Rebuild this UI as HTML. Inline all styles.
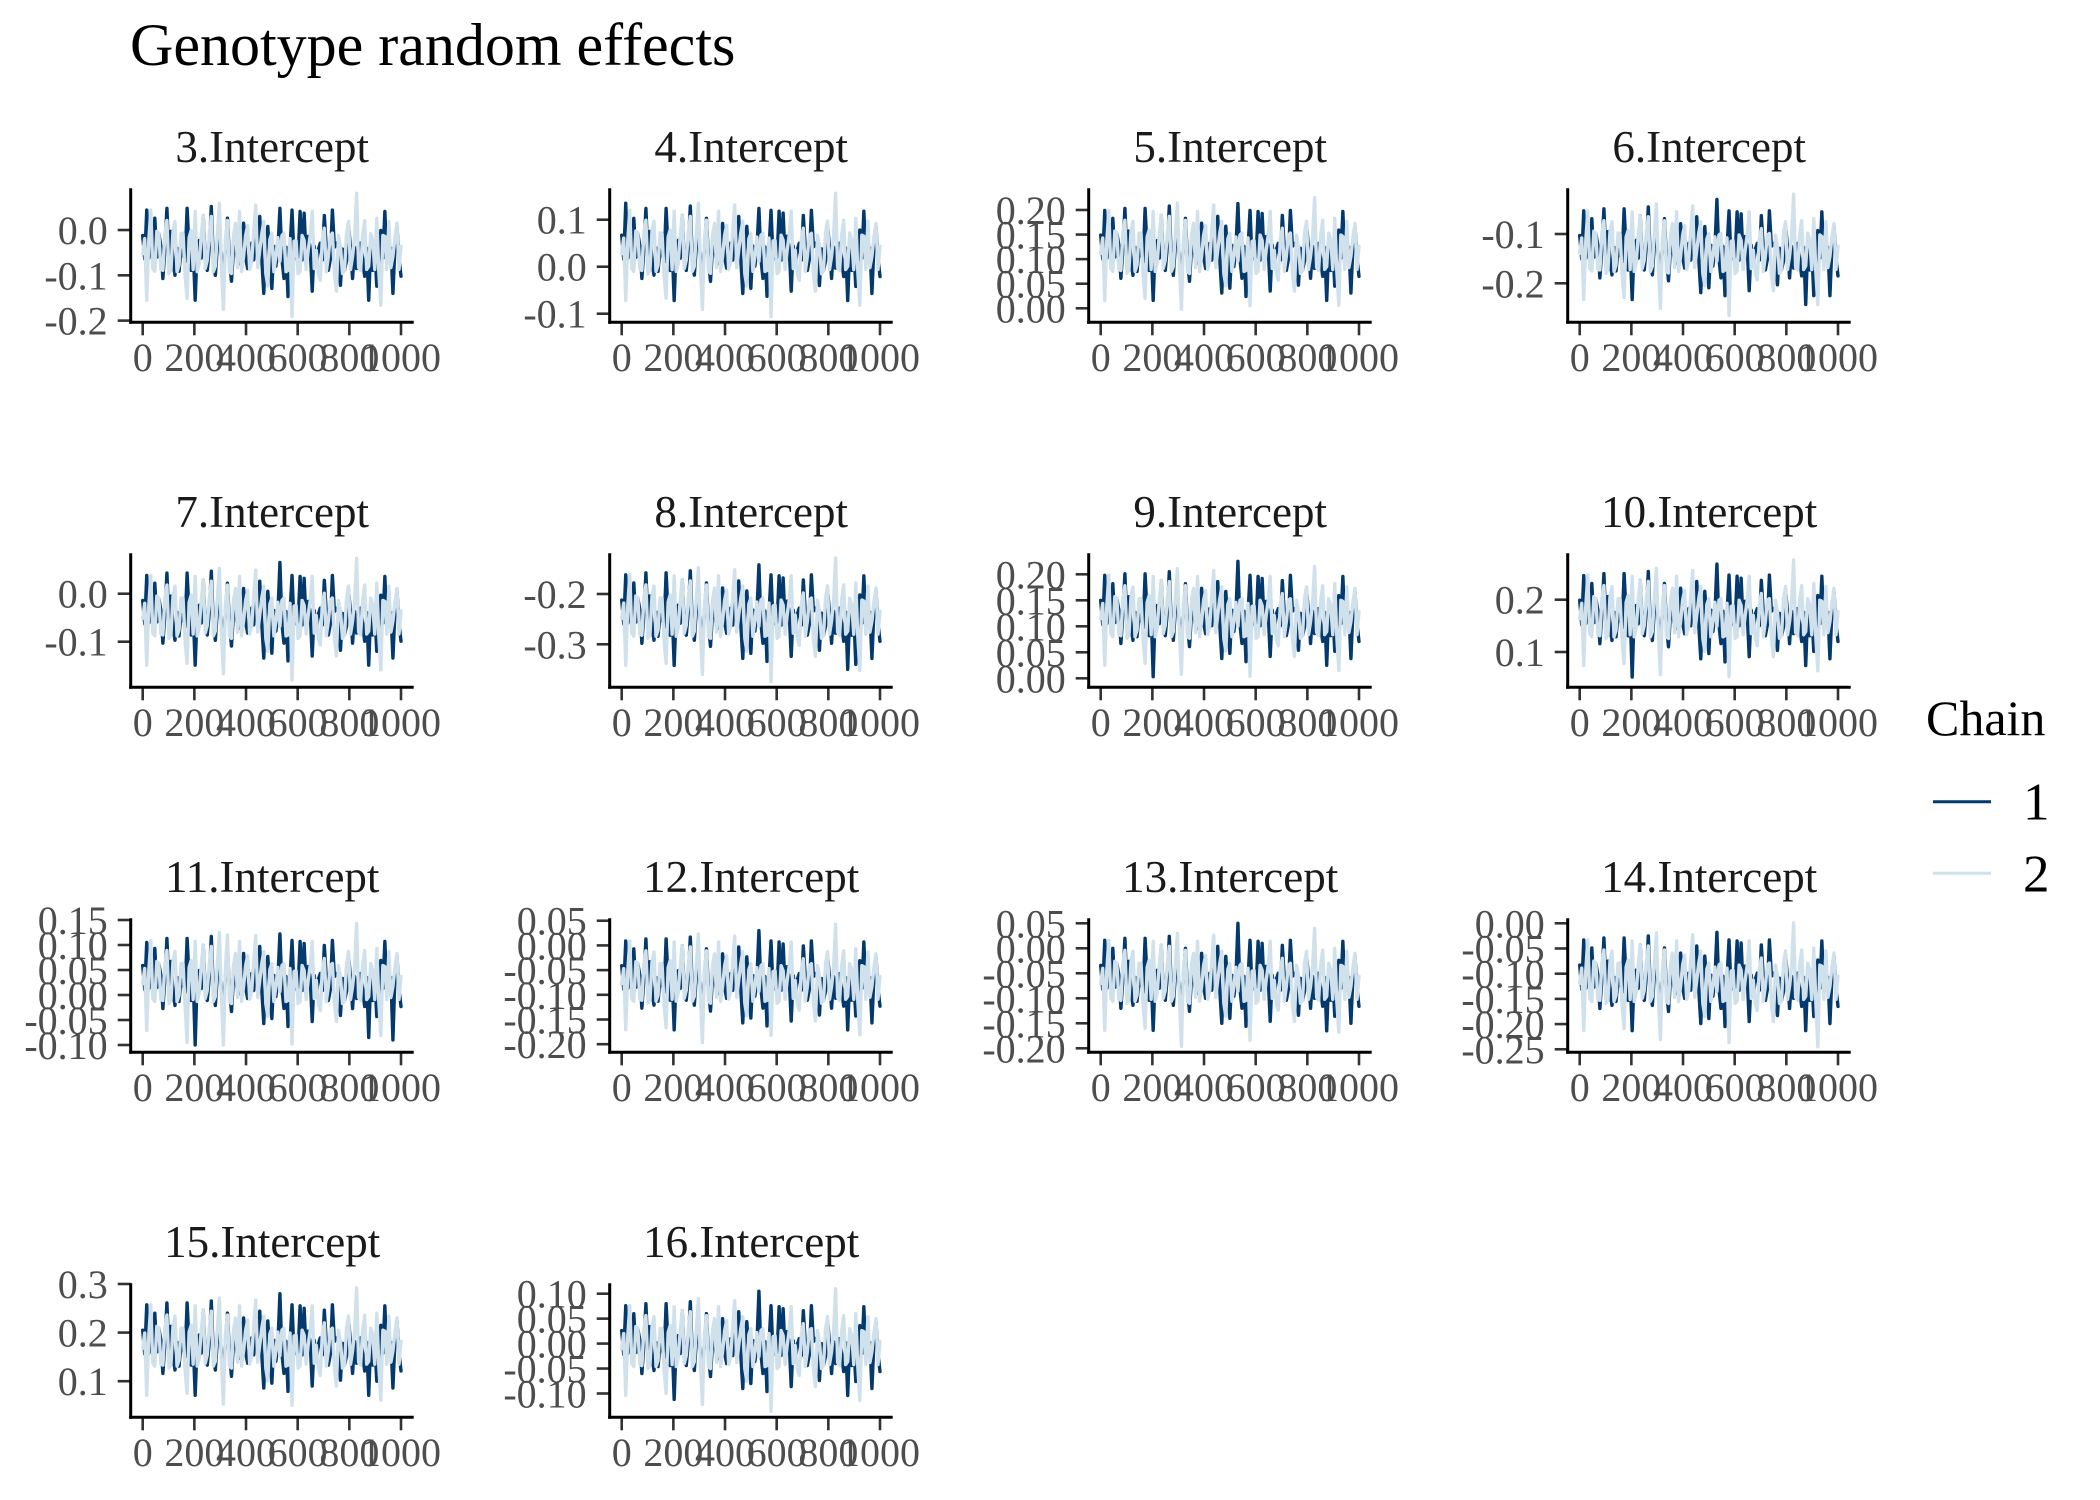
<!DOCTYPE html>
<html lang="en">
<head>
<meta charset="utf-8">
<title>Genotype random effects</title>
<style>
html,body{margin:0;padding:0;background:#fff;}
svg{display:block;font-family:"Liberation Serif",serif;}
</style>
</head>
<body>
<svg id="chart" xmlns="http://www.w3.org/2000/svg" width="2100" height="1500" viewBox="0 0 2100 1500">
  <rect x="0" y="0" width="2100" height="1500" fill="#fff"/>
  <text x="130" y="65" font-size="60" fill="#000">Genotype random effects</text>
  <g>
    <text x="1926" y="735" font-size="50" fill="#000">Chain</text>
    <line x1="1933" y1="801.7" x2="1991" y2="801.7" stroke="#03396c" stroke-width="3"/>
    <text x="2023" y="819.5" font-size="53" fill="#000">1</text>
    <line x1="1933" y1="873.3" x2="1991" y2="873.3" stroke="#d1e1ec" stroke-width="3"/>
    <text x="2023" y="891.5" font-size="53" fill="#000">2</text>
  </g>
  <g id="panels"></g>
</svg>
<script>
// Trace values are in thousandths of the effect size.
// The "Between" arrays hold the samples that fall between consecutive samples of the main array.
const valueUnit = 0.001;
const maxIteration = 1000;
const xTickValues = [0, 200, 400, 600, 800, 1000];

const p3Title = '3.Intercept';
const p3Ticks = ['0.0', '-0.1', '-0.2'];
const p3Domain = [-0.2037, 0.0921];
const p3Chain1 = [-12,44,-23,26,-7,-107,48,-3,-100,-91,-52,48,-89,-155,-23,32,-89,52,-100,-3,-107,26,-113,-36,-74,15,-85,-29,-7,30,-140,8,-129,-80,48,-107,-147,44,-25,41,37,-14,-135,-80,-29,32,-89,44,-29,-122,-89,10,-107,-85,-29,-102,-155,-89,-124,-1,41,-67,-140,8,-102];
const p3Chain1Between = [-64,-62,-66,-60,-36,-42,-64,-68,-40,-44,-70,-42,-38,-40,-62,-68,-40,-66,-36,-62,-38,-64,-42,-68,-38,-60,-40,-66,-62,-64,-38,-62,-36,-42,-64,-38,-42,-64,-60,-66,-62,-40,-36,-44,-66,-42,-64,-38,-40,-42,-68,-40,-38,-44,-66,-40,-36,-42,-64,-62,-66,-40,-36,-62];
const p3Chain2 = [-52,-155,44,-91,-7,-89,21,-89,19,-78,-7,-151,-1,41,-74,32,-67,30,-80,59,-175,21,-96,15,41,-58,10,-69,55,-45,19,-124,-7,-58,-69,-7,-89,-191,-23,-91,-23,-45,41,-45,-111,4,-58,-7,-135,-36,-89,19,-58,81,-89,21,-80,-23,26,-166,-14,19,-58,15,-36];
const p3Chain2Between = [-19,-25,-85,-3,-87,-8,-96,-3,-92,-8,-101,-17,-87,-92,-12,-85,-8,-92,-8,-83,-21,-92,-12,-83,-92,-12,-87,-3,-83,-8,-96,-21,-92,-17,-12,-92,-19,-25,-96,-12,-87,-12,-85,-96,-21,-92,-12,-96,-12,-96,-8,-87,-17,-83,-12,-87,-8,-87,-92,-12,-87,-83,-17,-87];

const p4Title = '4.Intercept';
const p4Ticks = ['0.1', '0.0', '-0.1'];
const p4Domain = [-0.1183, 0.1668];
const p4Chain1 = [67,135,56,103,71,-25,124,75,-18,-10,28,124,-8,-72,56,109,-8,129,-18,75,-25,103,-31,43,7,92,-3,50,71,107,-57,86,-46,1,124,-25,-63,120,54,118,114,65,-52,1,50,109,-8,120,50,-40,-8,88,-25,-3,50,-21,-72,-8,-42,78,118,14,-57,86,-21];
const p4Chain1Between = [16,18,14,20,44,38,16,12,40,36,10,38,42,40,18,12,40,14,44,18,42,16,38,12,42,20,40,14,18,16,42,18,44,38,16,42,38,16,20,14,18,40,44,36,14,38,16,42,40,38,12,40,42,36,14,40,44,38,16,18,14,40,44,18];
const p4Chain2 = [28,-72,120,-10,71,-8,99,-8,97,3,71,-67,78,118,7,109,14,107,1,135,-91,99,-14,92,118,22,88,11,131,35,97,-42,71,22,11,71,-8,-106,56,-10,56,35,118,35,-29,82,22,71,-52,43,-8,97,22,156,-8,99,1,56,103,-82,65,97,22,92,43];
const p4Chain2Between = [61,55,-4,76,-6,72,-15,76,-10,72,-19,63,-6,-10,67,-4,72,-10,72,-2,59,-10,67,-2,-10,67,-6,76,-2,72,-15,59,-10,63,67,-10,61,55,-15,67,-6,67,-4,-15,59,-10,67,-15,67,-15,72,-6,63,-2,67,-6,72,-6,-10,67,-6,-2,63,-6];

const p5Title = '5.Intercept';
const p5Ticks = ['0.20', '0.15', '0.10', '0.05', '0.00'];
const p5Domain = [-0.0285, 0.2441];
const p5Chain1 = [149,199,138,183,153,61,203,157,67,75,112,203,77,16,138,189,77,208,67,157,61,183,55,126,92,173,81,132,153,187,31,167,41,85,213,61,24,199,136,197,193,146,35,85,132,189,77,199,132,47,77,169,61,81,132,65,16,77,45,159,197,98,31,167,65];
const p5Chain1Between = [100,102,98,104,128,122,100,96,124,120,94,122,126,124,102,96,124,98,128,102,126,100,122,96,126,104,124,98,102,100,126,102,128,122,100,126,122,100,104,98,102,124,128,120,98,122,100,126,124,122,96,124,126,120,98,124,128,122,100,102,98,124,128,102];
const p5Chain2 = [112,16,199,75,153,77,179,77,177,88,153,20,159,197,92,189,98,187,85,214,-2,179,71,173,197,106,169,96,210,118,177,45,153,106,96,153,77,5,138,75,138,118,197,118,57,163,106,153,35,126,77,177,106,225,77,179,85,138,183,6,146,177,106,173,126];
const p5Chain2Between = [143,136,81,157,79,153,71,157,75,153,67,145,79,75,149,81,153,75,153,83,141,75,149,83,75,149,79,157,83,153,71,141,75,145,149,75,143,136,71,149,79,149,81,71,141,75,149,71,149,71,153,79,145,83,149,79,153,79,75,149,79,83,145,79];

const p6Title = '6.Intercept';
const p6Ticks = ['-0.1', '-0.2'];
const p6Domain = [-0.2791, -0.0073];
const p6Chain1 = [-103,-53,-113,-69,-99,-189,-49,-95,-183,-175,-139,-49,-173,-233,-113,-63,-173,-45,-183,-95,-189,-69,-195,-125,-159,-79,-169,-119,-99,-65,-219,-85,-209,-165,-30,-189,-225,-53,-115,-55,-59,-105,-215,-165,-119,-63,-173,-53,-119,-203,-173,-83,-189,-169,-119,-185,-243,-173,-225,-93,-55,-153,-225,-85,-185];
const p6Chain1Between = [-151,-149,-153,-147,-123,-129,-151,-155,-127,-131,-157,-129,-125,-127,-149,-155,-127,-153,-123,-149,-125,-151,-129,-155,-125,-147,-127,-153,-149,-151,-125,-149,-123,-129,-151,-125,-129,-151,-147,-153,-149,-127,-123,-131,-153,-129,-151,-125,-127,-129,-155,-127,-125,-131,-153,-127,-123,-129,-151,-149,-153,-127,-123,-149];
const p6Chain2 = [-139,-233,-53,-175,-99,-173,-73,-173,-75,-163,-99,-229,-93,-55,-159,-63,-153,-65,-165,-39,-251,-73,-179,-79,-55,-145,-83,-155,-43,-133,-75,-205,-99,-145,-155,-99,-173,-265,-113,-175,-113,-133,-55,-133,-193,-89,-145,-99,-215,-125,-173,-75,-145,-19,-173,-73,-165,-113,-69,-243,-105,-75,-145,-79,-125];
const p6Chain2Between = [-108,-115,-170,-94,-172,-98,-180,-94,-176,-98,-184,-106,-172,-176,-102,-170,-98,-176,-98,-168,-110,-176,-102,-168,-176,-102,-172,-94,-168,-98,-180,-110,-176,-106,-102,-176,-108,-115,-180,-102,-172,-102,-170,-180,-110,-176,-102,-180,-102,-180,-98,-172,-106,-168,-102,-172,-98,-172,-176,-102,-172,-168,-106,-172];

const p7Title = '7.Intercept';
const p7Ticks = ['0.0', '-0.1'];
const p7Domain = [-0.195, 0.0842];
const p7Chain1 = [-14,38,-24,22,-9,-103,43,-5,-97,-88,-51,43,-86,-149,-24,28,-86,47,-97,-5,-103,22,-109,-36,-72,11,-82,-30,-9,26,-134,5,-124,-78,65,-103,-140,38,-26,36,32,-16,-130,-78,-30,28,-86,38,-30,-118,-86,7,-103,-82,-30,-99,-149,-86,-120,-3,36,-66,-134,5,-99];
const p7Chain1Between = [-63,-61,-65,-59,-35,-41,-63,-67,-39,-43,-69,-41,-37,-39,-61,-67,-39,-65,-35,-61,-37,-63,-41,-67,-37,-59,-39,-65,-61,-63,-37,-61,-35,-41,-63,-37,-41,-63,-59,-65,-61,-39,-35,-43,-65,-41,-63,-37,-39,-41,-67,-39,-37,-43,-65,-39,-35,-41,-63,-61,-65,-39,-35,-61];
const p7Chain2 = [-51,-149,38,-88,-9,-86,18,-86,16,-76,-9,-145,-3,36,-72,28,-66,26,-78,53,-167,18,-93,11,36,-57,7,-68,49,-45,16,-120,-9,-57,-68,-9,-86,-180,-24,-88,-24,-45,36,-45,-107,1,-57,-9,-130,-36,-86,16,-57,74,-86,18,-78,-24,22,-159,-16,16,-57,11,-36];
const p7Chain2Between = [-20,-26,-82,-5,-84,-9,-93,-5,-88,-9,-97,-18,-84,-88,-14,-82,-9,-88,-9,-80,-22,-88,-14,-80,-88,-14,-84,-5,-80,-9,-93,-22,-88,-18,-14,-88,-20,-26,-93,-14,-84,-14,-82,-93,-22,-88,-14,-93,-14,-93,-9,-84,-18,-80,-14,-84,-9,-84,-88,-14,-84,-80,-18,-84];

const p8Title = '8.Intercept';
const p8Ticks = ['-0.2', '-0.3'];
const p8Domain = [-0.3855, -0.1191];
const p8Chain1 = [-212,-162,-222,-178,-208,-298,-158,-204,-292,-284,-248,-158,-282,-342,-222,-172,-282,-154,-292,-204,-298,-178,-304,-234,-268,-188,-278,-228,-208,-174,-328,-194,-318,-274,-142,-298,-334,-162,-224,-164,-168,-214,-324,-274,-228,-172,-282,-162,-228,-312,-282,-192,-298,-278,-228,-294,-350,-282,-340,-202,-164,-262,-328,-194,-294];
const p8Chain1Between = [-260,-258,-262,-256,-232,-238,-260,-264,-236,-240,-266,-238,-234,-236,-258,-264,-236,-262,-232,-258,-234,-260,-238,-264,-234,-256,-236,-262,-258,-260,-234,-258,-232,-238,-260,-234,-238,-260,-256,-262,-258,-236,-232,-240,-262,-238,-260,-234,-236,-238,-264,-236,-234,-240,-262,-236,-232,-238,-260,-258,-262,-236,-232,-258];
const p8Chain2 = [-248,-342,-162,-284,-208,-282,-182,-282,-184,-272,-208,-338,-202,-164,-268,-172,-262,-174,-274,-148,-360,-182,-288,-188,-164,-254,-192,-264,-152,-242,-184,-314,-208,-254,-264,-208,-282,-374,-222,-284,-222,-242,-164,-242,-302,-198,-254,-208,-324,-234,-282,-184,-254,-128,-282,-182,-274,-222,-178,-352,-214,-184,-254,-188,-234];
const p8Chain2Between = [-218,-224,-278,-204,-280,-208,-288,-204,-284,-208,-292,-216,-280,-284,-212,-278,-208,-284,-208,-276,-220,-284,-212,-276,-284,-212,-280,-204,-276,-208,-288,-220,-284,-216,-212,-284,-218,-224,-288,-212,-280,-212,-278,-288,-220,-284,-212,-288,-212,-288,-208,-280,-216,-276,-212,-280,-208,-280,-284,-212,-280,-276,-216,-280];

const p9Title = '9.Intercept';
const p9Ticks = ['0.20', '0.15', '0.10', '0.05', '0.00'];
const p9Domain = [-0.0173, 0.2404];
const p9Chain1 = [150,198,140,182,153,67,201,157,73,80,115,201,82,3,140,188,82,205,73,157,67,182,61,128,96,173,86,134,153,186,38,167,48,90,225,67,32,198,138,196,192,148,42,90,134,188,82,198,134,54,82,169,67,86,134,71,25,82,52,159,196,102,38,167,71];
const p9Chain1Between = [103,105,101,107,131,125,103,99,127,123,97,125,129,127,105,99,127,101,131,105,129,103,125,99,129,107,127,101,105,103,129,105,131,125,103,129,125,103,107,101,105,127,131,123,101,125,103,129,127,125,99,127,129,123,101,127,131,125,103,105,101,127,131,105];
const p9Chain2 = [115,25,198,80,153,82,178,82,176,92,153,29,159,196,96,188,102,186,90,211,8,178,77,173,196,109,169,100,207,121,176,52,153,109,100,153,82,4,140,80,140,121,196,121,63,163,109,153,42,128,82,176,109,215,82,178,90,140,182,15,148,176,109,173,128];
const p9Chain2Between = [144,138,86,157,84,153,77,157,80,153,73,146,84,80,150,86,153,80,153,88,142,80,150,88,80,150,84,157,88,153,77,142,80,146,150,80,144,138,77,150,84,150,86,77,142,80,150,77,150,77,153,84,146,88,150,84,153,84,80,150,84,88,146,84];

const p10Title = '10.Intercept';
const p10Ticks = ['0.2', '0.1'];
const p10Domain = [0.0325, 0.2887];
const p10Chain1 = [199,246,189,231,202,116,250,206,122,129,164,250,131,52,189,237,131,254,122,206,116,231,110,177,145,222,135,183,202,235,87,216,97,139,268,116,81,247,187,245,241,197,91,139,183,237,131,247,183,103,131,218,116,135,183,120,74,131,101,208,245,151,87,216,120];
const p10Chain1Between = [152,154,150,156,180,174,152,148,176,172,146,174,178,176,154,148,176,150,180,154,178,152,174,148,178,156,176,150,154,152,178,154,180,174,152,178,174,152,156,150,154,176,180,172,150,174,152,178,176,174,148,176,178,172,150,176,180,174,152,154,150,176,180,154];
const p10Chain2 = [164,74,247,129,202,131,227,131,225,141,202,78,208,245,145,237,151,235,139,260,57,227,126,222,245,158,218,149,256,170,225,101,202,158,149,202,131,53,189,129,189,170,245,170,112,212,158,202,91,177,131,225,158,276,131,227,139,189,231,64,197,225,158,222,177];
const p10Chain2Between = [193,187,135,206,133,202,126,206,129,202,122,195,133,129,199,135,202,129,202,137,191,129,199,137,129,199,133,206,137,202,126,191,129,195,199,129,193,187,126,199,133,199,135,126,191,129,199,126,199,126,202,133,195,137,199,133,202,133,129,199,133,137,195,133];

const p11Title = '11.Intercept';
const p11Ticks = ['0.15', '0.10', '0.05', '0.00', '-0.05', '-0.10'];
const p11Domain = [-0.1146, 0.1534];
const p11Chain1 = [59,105,49,93,63,-27,113,67,-21,-13,23,113,-11,-100,49,99,-11,117,-21,67,-27,93,-33,37,3,83,-7,43,63,97,-57,77,-47,-3,122,-27,-63,109,47,107,103,57,-53,-3,43,99,-11,109,43,-41,-11,79,-27,-7,43,-23,-85,-11,-43,69,107,9,-90,77,-23];
const p11Chain1Between = [11,13,9,15,39,33,11,7,35,31,5,33,37,35,13,7,35,9,39,13,37,11,33,7,37,15,35,9,13,11,37,13,39,33,11,37,33,11,15,9,13,35,39,31,9,33,11,37,35,33,7,35,37,31,9,35,39,33,11,13,9,35,39,13];
const p11Chain2 = [23,-71,109,-13,63,-11,89,-11,87,-1,63,-95,69,107,3,99,9,97,-3,125,-100,120,-17,83,107,17,79,7,119,29,87,-43,63,17,7,63,-11,-98,49,-13,49,29,107,29,-31,73,17,63,-53,37,-11,87,17,143,-11,89,-3,49,93,-81,57,87,17,83,37];
const p11Chain2Between = [53,47,-7,67,-9,63,-17,67,-13,63,-21,55,-9,-13,59,-7,63,-13,63,-5,51,-13,59,-5,-13,59,-9,67,-5,63,-17,51,-13,55,59,-13,53,47,-17,59,-9,59,-7,-17,51,-13,59,-17,59,-17,63,-9,55,-5,59,-9,63,-9,-13,59,-9,-5,55,-9];

const p12Title = '12.Intercept';
const p12Ticks = ['0.05', '0.00', '-0.05', '-0.10', '-0.15', '-0.20'];
const p12Domain = [-0.2164, 0.0549];
const p12Chain1 = [-41,9,-51,-7,-37,-127,13,-33,-121,-113,-77,13,-111,-171,-51,-1,-111,17,-121,-33,-127,-7,-133,-63,-97,-17,-107,-57,-37,-3,-157,-23,-147,-103,30,-127,-163,9,-53,7,3,-43,-153,-103,-57,-1,-111,9,-57,-141,-111,-21,-127,-107,-57,-123,-171,-111,-143,-31,7,-91,-157,-23,-123];
const p12Chain1Between = [-89,-87,-91,-85,-61,-67,-89,-93,-65,-69,-95,-67,-63,-65,-87,-93,-65,-91,-61,-87,-63,-89,-67,-93,-63,-85,-65,-91,-87,-89,-63,-87,-61,-67,-89,-63,-67,-89,-85,-91,-87,-65,-61,-69,-91,-67,-89,-63,-65,-67,-93,-65,-63,-69,-91,-65,-61,-67,-89,-87,-91,-65,-61,-87];
const p12Chain2 = [-77,-171,9,-113,-37,-111,-11,-111,-13,-101,-37,-167,-31,7,-97,-1,-91,-3,-103,23,-197,-11,-117,-17,7,-83,-21,-93,19,-71,-13,-143,-37,-83,-93,-37,-111,-182,-51,-113,-51,-71,7,-71,-131,-27,-83,-37,-153,-63,-111,-13,-83,43,-111,-11,-103,-51,-7,-181,-43,-13,-83,-17,-63];
const p12Chain2Between = [-47,-53,-107,-33,-109,-37,-117,-33,-113,-37,-121,-45,-109,-113,-41,-107,-37,-113,-37,-105,-49,-113,-41,-105,-113,-41,-109,-33,-105,-37,-117,-49,-113,-45,-41,-113,-47,-53,-117,-41,-109,-41,-107,-117,-49,-113,-41,-117,-41,-117,-37,-109,-45,-105,-41,-109,-37,-109,-113,-41,-109,-105,-45,-109];

const p13Title = '13.Intercept';
const p13Ticks = ['0.05', '0.00', '-0.05', '-0.10', '-0.15', '-0.20'];
const p13Domain = [-0.208, 0.06];
const p13Chain1 = [-34,16,-44,0,-30,-120,20,-26,-114,-106,-70,20,-104,-164,-44,6,-104,24,-114,-26,-120,0,-126,-56,-90,-10,-100,-50,-30,4,-150,-16,-140,-96,50,-120,-156,16,-46,14,10,-36,-146,-96,-50,6,-104,16,-50,-134,-104,-14,-120,-100,-50,-116,-165,-104,-136,-24,14,-84,-150,-16,-116];
const p13Chain1Between = [-82,-80,-84,-78,-54,-60,-82,-86,-58,-62,-88,-60,-56,-58,-80,-86,-58,-84,-54,-80,-56,-82,-60,-86,-56,-78,-58,-84,-80,-82,-56,-80,-54,-60,-82,-56,-60,-82,-78,-84,-80,-58,-54,-62,-84,-60,-82,-56,-58,-60,-86,-58,-56,-62,-84,-58,-54,-60,-82,-80,-84,-58,-54,-80];
const p13Chain2 = [-70,-164,16,-106,-30,-104,-4,-104,-6,-94,-30,-160,-24,14,-90,6,-84,4,-96,30,-196,-4,-110,-10,14,-76,-14,-86,26,-64,-6,-136,-30,-76,-86,-30,-104,-184,-44,-106,-44,-64,14,-64,-124,-20,-76,-30,-146,-56,-104,-6,-76,40,-104,-4,-96,-44,0,-168,-36,-6,-76,-10,-56];
const p13Chain2Between = [-40,-46,-100,-26,-102,-30,-110,-26,-106,-30,-114,-38,-102,-106,-34,-100,-30,-106,-30,-98,-42,-106,-34,-98,-106,-34,-102,-26,-98,-30,-110,-42,-106,-38,-34,-106,-40,-46,-110,-34,-102,-34,-100,-110,-42,-106,-34,-110,-34,-110,-30,-102,-38,-98,-34,-102,-30,-102,-106,-34,-102,-98,-38,-102];

const p14Title = '14.Intercept';
const p14Ticks = ['0.00', '-0.05', '-0.10', '-0.15', '-0.20', '-0.25'];
const p14Domain = [-0.256, 0.0099];
const p14Chain1 = [-83,-33,-93,-49,-79,-169,-29,-75,-163,-155,-119,-29,-153,-213,-93,-43,-153,-25,-163,-75,-169,-49,-175,-105,-139,-59,-149,-99,-79,-45,-199,-65,-189,-145,-18,-169,-205,-33,-95,-35,-39,-85,-195,-145,-99,-43,-153,-33,-99,-183,-153,-63,-169,-149,-99,-165,-213,-153,-185,-73,-35,-133,-199,-65,-165];
const p14Chain1Between = [-131,-129,-133,-127,-103,-109,-131,-135,-107,-111,-137,-109,-105,-107,-129,-135,-107,-133,-103,-129,-105,-131,-109,-135,-105,-127,-107,-133,-129,-131,-105,-129,-103,-109,-131,-105,-109,-131,-127,-133,-129,-107,-103,-111,-133,-109,-131,-105,-107,-109,-135,-107,-105,-111,-133,-107,-103,-109,-131,-129,-133,-107,-103,-129];
const p14Chain2 = [-119,-213,-33,-155,-79,-153,-53,-153,-55,-143,-79,-209,-73,-35,-139,-43,-133,-45,-145,-19,-231,-53,-159,-59,-35,-125,-63,-135,-23,-113,-55,-185,-79,-125,-135,-79,-153,-237,-93,-155,-93,-113,-35,-113,-173,-69,-125,-79,-195,-105,-153,-55,-125,1,-153,-53,-145,-93,-49,-245,-85,-55,-125,-59,-105];
const p14Chain2Between = [-89,-95,-149,-75,-151,-79,-159,-75,-155,-79,-163,-87,-151,-155,-83,-149,-79,-155,-79,-147,-91,-155,-83,-147,-155,-83,-151,-75,-147,-79,-159,-91,-155,-87,-83,-155,-89,-95,-159,-83,-151,-83,-149,-159,-91,-155,-83,-159,-83,-159,-79,-151,-87,-147,-83,-151,-79,-151,-155,-83,-151,-147,-87,-151];

const p15Title = '15.Intercept';
const p15Ticks = ['0.3', '0.2', '0.1'];
const p15Domain = [0.0257, 0.3014];
const p15Chain1 = [205,257,195,240,209,116,261,213,123,131,168,261,133,71,195,246,133,265,123,213,116,240,110,182,147,230,137,189,209,244,86,224,96,141,280,116,79,257,193,255,250,203,90,141,189,246,133,257,189,102,133,226,116,137,189,121,71,133,100,215,255,154,86,224,121];
const p15Chain1Between = [156,158,154,160,184,178,156,152,180,176,150,178,182,180,158,152,180,154,184,158,182,156,178,152,182,160,180,154,158,156,182,158,184,178,156,182,178,156,160,154,158,180,184,176,154,178,156,182,180,178,152,180,182,176,154,180,184,178,156,158,154,180,184,158];
const p15Chain2 = [168,71,257,131,209,133,236,133,234,143,209,75,215,255,147,246,154,244,141,271,53,236,127,230,255,162,226,152,267,174,234,100,209,162,152,209,133,50,195,131,195,174,255,174,112,220,162,209,90,182,133,234,162,292,133,236,141,195,240,61,203,234,162,230,182];
const p15Chain2Between = [199,193,137,213,135,209,127,213,131,209,123,201,135,131,205,137,209,131,209,139,197,131,205,139,131,205,135,213,139,209,127,197,131,201,205,131,199,193,127,205,135,205,137,127,197,131,205,127,205,127,209,135,201,139,205,135,209,135,131,205,135,139,201,135];

const p16Title = '16.Intercept';
const p16Ticks = ['0.10', '0.05', '0.00', '-0.05', '-0.10'];
const p16Domain = [-0.1477, 0.1208];
const p16Chain1 = [26,76,16,60,30,-60,80,34,-54,-46,-10,80,-44,-112,16,66,-44,84,-54,34,-60,60,-66,4,-30,50,-40,10,30,64,-90,44,-80,-36,105,-60,-96,76,14,74,70,24,-86,-36,10,66,-44,76,10,-74,-44,46,-60,-40,10,-56,-104,-44,-76,36,74,-24,-90,44,-56];
const p16Chain1Between = [-22,-20,-24,-18,6,0,-22,-26,2,-2,-28,0,4,2,-20,-26,2,-24,6,-20,4,-22,0,-26,4,-18,2,-24,-20,-22,4,-20,6,0,-22,4,0,-22,-18,-24,-20,2,6,-2,-24,0,-22,4,2,0,-26,2,4,-2,-24,2,6,0,-22,-20,-24,2,6,-20];
const p16Chain2 = [-10,-104,76,-46,30,-44,56,-44,54,-34,30,-100,36,74,-30,66,-24,64,-36,90,-122,56,-50,50,74,-16,46,-26,86,-4,54,-76,30,-16,-26,30,-44,-136,16,-46,16,-4,74,-4,-64,40,-16,30,-86,4,-44,54,-16,110,-44,56,-36,16,60,-114,24,54,-16,50,4];
const p16Chain2Between = [20,14,-40,34,-42,30,-50,34,-46,30,-54,22,-42,-46,26,-40,30,-46,30,-38,18,-46,26,-38,-46,26,-42,34,-38,30,-50,18,-46,22,26,-46,20,14,-50,26,-42,26,-40,-50,18,-46,26,-50,26,-50,30,-42,22,-38,26,-42,30,-42,-46,26,-42,-38,22,-42];

const panels = [
  [p3Title, p3Ticks, p3Domain, p3Chain1, p3Chain1Between, p3Chain2, p3Chain2Between],
  [p4Title, p4Ticks, p4Domain, p4Chain1, p4Chain1Between, p4Chain2, p4Chain2Between],
  [p5Title, p5Ticks, p5Domain, p5Chain1, p5Chain1Between, p5Chain2, p5Chain2Between],
  [p6Title, p6Ticks, p6Domain, p6Chain1, p6Chain1Between, p6Chain2, p6Chain2Between],
  [p7Title, p7Ticks, p7Domain, p7Chain1, p7Chain1Between, p7Chain2, p7Chain2Between],
  [p8Title, p8Ticks, p8Domain, p8Chain1, p8Chain1Between, p8Chain2, p8Chain2Between],
  [p9Title, p9Ticks, p9Domain, p9Chain1, p9Chain1Between, p9Chain2, p9Chain2Between],
  [p10Title, p10Ticks, p10Domain, p10Chain1, p10Chain1Between, p10Chain2, p10Chain2Between],
  [p11Title, p11Ticks, p11Domain, p11Chain1, p11Chain1Between, p11Chain2, p11Chain2Between],
  [p12Title, p12Ticks, p12Domain, p12Chain1, p12Chain1Between, p12Chain2, p12Chain2Between],
  [p13Title, p13Ticks, p13Domain, p13Chain1, p13Chain1Between, p13Chain2, p13Chain2Between],
  [p14Title, p14Ticks, p14Domain, p14Chain1, p14Chain1Between, p14Chain2, p14Chain2Between],
  [p15Title, p15Ticks, p15Domain, p15Chain1, p15Chain1Between, p15Chain2, p15Chain2Between],
  [p16Title, p16Ticks, p16Domain, p16Chain1, p16Chain1Between, p16Chain2, p16Chain2Between]
];

const SVG_NS = 'http://www.w3.org/2000/svg';
const root = document.getElementById('panels');
const chainColors = ['#03396c', '#d1e1ec'];
const leftX = 130.7, colStep = 479, topY = 188.3, rowStep = 365, plotH = 134, plotW = 283;

function make(tag, attrs, parent) {
  const el = document.createElementNS(SVG_NS, tag);
  for (const k in attrs) el.setAttribute(k, attrs[k]);
  parent.appendChild(el);
  return el;
}

function interleave(main, between) {
  const out = [];
  main.forEach(function (v, i) {
    out.push(v);
    if (i < between.length) out.push(between[i]);
  });
  return out;
}

panels.forEach(function (panel, index) {
  const title = panel[0], ticks = panel[1], domain = panel[2];
  const col = index % 4, row = Math.floor(index / 4);
  const ax = leftX + col * colStep;
  const top = topY + row * rowStep;
  const bottom = top + plotH;
  const xScale = function (t) { return ax + 12 + t * 0.2583; };
  const yScale = function (v) { return bottom - (v - domain[0]) / (domain[1] - domain[0]) * plotH; };

  const g = make('g', {}, root);
  
  

  const head = make('text', { x: ax + plotW / 2, y: top - 26.5, 'font-size': 45, fill: '#1a1a1a', 'text-anchor': 'middle' }, g);
  head.textContent = title;
  
  

  [interleave(panel[3], panel[4]), interleave(panel[5], panel[6])].forEach(function (series, c) {
    const d = series.map(function (m, i) {
      const t = i * maxIteration / (series.length - 1);
      return (i ? 'L' : 'M') + xScale(t).toFixed(2) + ' ' + yScale(m * valueUnit).toFixed(2);
    }).join('');
    const line = make('path', { d: d, fill: 'none', stroke: chainColors[c], 'stroke-width': 3.4, 'stroke-linejoin': 'round', 'stroke-linecap': 'round' }, g);
    
    
  });

  ticks.forEach(function (label) {
    const y = yScale(parseFloat(label));
    const tick = make('line', { x1: ax - 13, x2: ax, y1: y, y2: y, stroke: '#333', 'stroke-width': 2.6 }, g);
    
    
    const text = make('text', { x: ax - 23, y: y + 14, 'font-size': 40, fill: '#4d4d4d', 'text-anchor': 'end' }, g);
    text.textContent = label;
    
    
  });

  xTickValues.forEach(function (value) {
    const x = xScale(value);
    const tick = make('line', { x1: x, x2: x, y1: bottom, y2: bottom + 13, stroke: '#333', 'stroke-width': 2.6 }, g);
    
    
    const text = make('text', { x: x, y: bottom + 48.5, 'font-size': 40, fill: '#4d4d4d', 'text-anchor': 'middle' }, g);
    text.textContent = String(value);
    
    
  });

  const yAxis = make('line', { x1: ax, x2: ax, y1: top, y2: bottom + 1.5, stroke: '#000', 'stroke-width': 3 }, g);
  
  
  const xAxis = make('line', { x1: ax - 1.5, x2: ax + plotW, y1: bottom, y2: bottom, stroke: '#000', 'stroke-width': 3 }, g);
  
  
});
</script>
</body>
</html>
